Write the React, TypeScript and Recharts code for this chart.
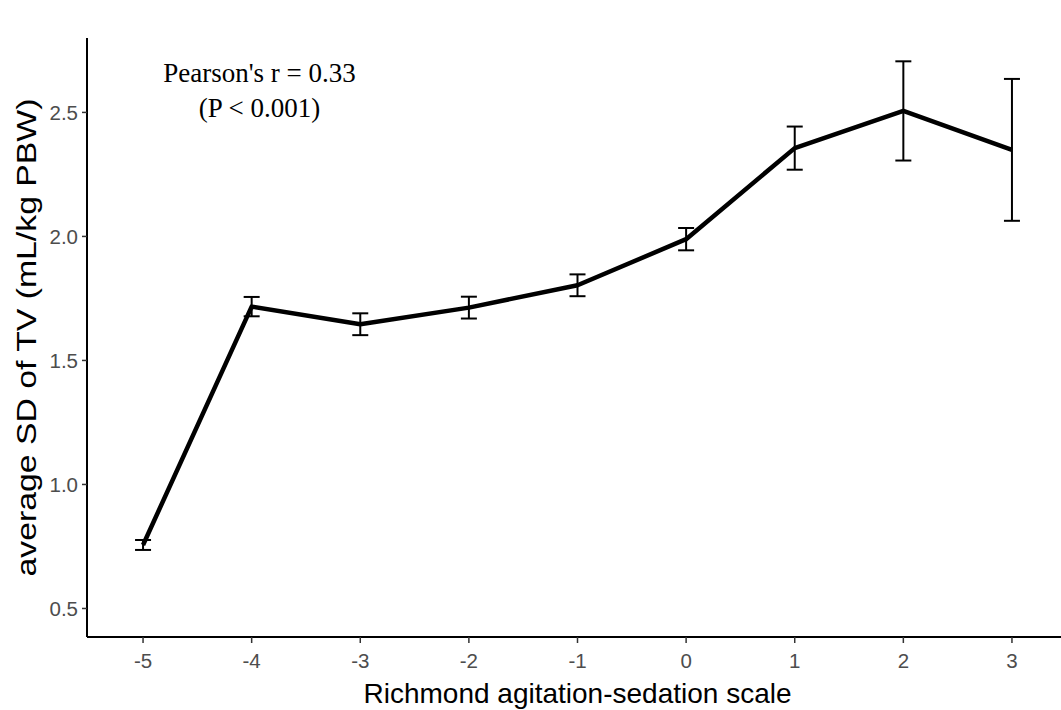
import React from 'react';
import { LineChart, Line, XAxis, YAxis, ErrorBar, Label } from 'recharts';

// Richmond agitation-sedation scale categories
const rassScores = [-5, -4, -3, -2, -1, 0, 1, 2, 3];
// average SD of TV (mL/kg PBW)
const meanSD = [0.756, 1.717, 1.646, 1.713, 1.803, 1.989, 2.356, 2.506, 2.349];
// error half-widths
const errSD = [0.02, 0.039, 0.044, 0.044, 0.044, 0.045, 0.087, 0.2, 0.286];

const xTicks = [-5, -4, -3, -2, -1, 0, 1, 2, 3];
const yTicks = [0.5, 1.0, 1.5, 2.0, 2.5];

const annotationLines = ["Pearson's r = 0.33", '(P < 0.001)'];
const xTitle = 'Richmond agitation-sedation scale';
const yTitle = 'average SD of TV (mL/kg PBW)';

const data = rassScores.map((x, i) => ({ x, y: meanSD[i], err: errSD[i] }));

const sans = '"Liberation Sans", Arial, sans-serif';
const serif = '"Liberation Serif", "Times New Roman", serif';

export default function App() {
  return (
    <div style={{ position: 'relative', width: 1061, height: 710, overflow: 'hidden', background: '#fff' }}>
      <style>{`body{margin:0;background:#fff}`}</style>
      <LineChart width={1068} height={710} data={data} margin={{ top: 38, right: 0, bottom: 0, left: 0 }}>
        <XAxis
          type="number"
          dataKey="x"
          domain={[-5.516, 3.516]}
          ticks={xTicks}
          allowDataOverflow
          interval={0}
          height={73}
          axisLine={{ stroke: '#000', strokeWidth: 2 }}
          tickLine={{ stroke: '#333', strokeWidth: 1.5 }}
          tickSize={6}
          tickMargin={10}
          tick={{ fill: '#4d4d4d', fontSize: 20.5, fontFamily: sans }}
        >
          <Label
            content={() => (
              <text x={577.5} y={703} textAnchor="middle" fill="#000" fontSize={28} fontFamily={sans}>
                {xTitle}
              </text>
            )}
          />
        </XAxis>
        <YAxis
          type="number"
          domain={[0.385, 2.8]}
          ticks={yTicks}
          allowDataOverflow
          interval={0}
          width={87}
          axisLine={{ stroke: '#000', strokeWidth: 2 }}
          tickLine={{ stroke: '#333', strokeWidth: 1.5 }}
          tickSize={5}
          tickMargin={4}
          tickFormatter={(v: number) => v.toFixed(1)}
          tick={{ fill: '#4d4d4d', fontSize: 20.5, fontFamily: sans }}
        >
          <Label
            content={() => (
              <text
                x={36}
                y={337.5}
                transform="rotate(-90 36 337.5)"
                textAnchor="middle"
                fill="#000"
                fontSize={27}
                fontFamily={sans}
                textLength={478}
                lengthAdjust="spacingAndGlyphs"
              >
                {yTitle}
              </text>
            )}
          />
        </YAxis>
        <Line
          type="linear"
          dataKey="y"
          stroke="#000"
          strokeWidth={4.5}
          strokeLinejoin="round"
          dot={false}
          activeDot={false}
          isAnimationActive={false}
        >
          <ErrorBar dataKey="err" width={8} stroke="#000" strokeWidth={2} direction="y" isAnimationActive={false} />
        </Line>
      </LineChart>
      <svg
        width={1061}
        height={710}
        style={{ position: 'absolute', left: 0, top: 0, pointerEvents: 'none' }}
      >
        <text x={259.5} y={82} textAnchor="middle" fontSize={27} fontFamily={serif} fill="#000">
          {annotationLines[0]}
        </text>
        <text x={259.5} y={117} textAnchor="middle" fontSize={27} fontFamily={serif} fill="#000">
          {annotationLines[1]}
        </text>
      </svg>
    </div>
  );
}
